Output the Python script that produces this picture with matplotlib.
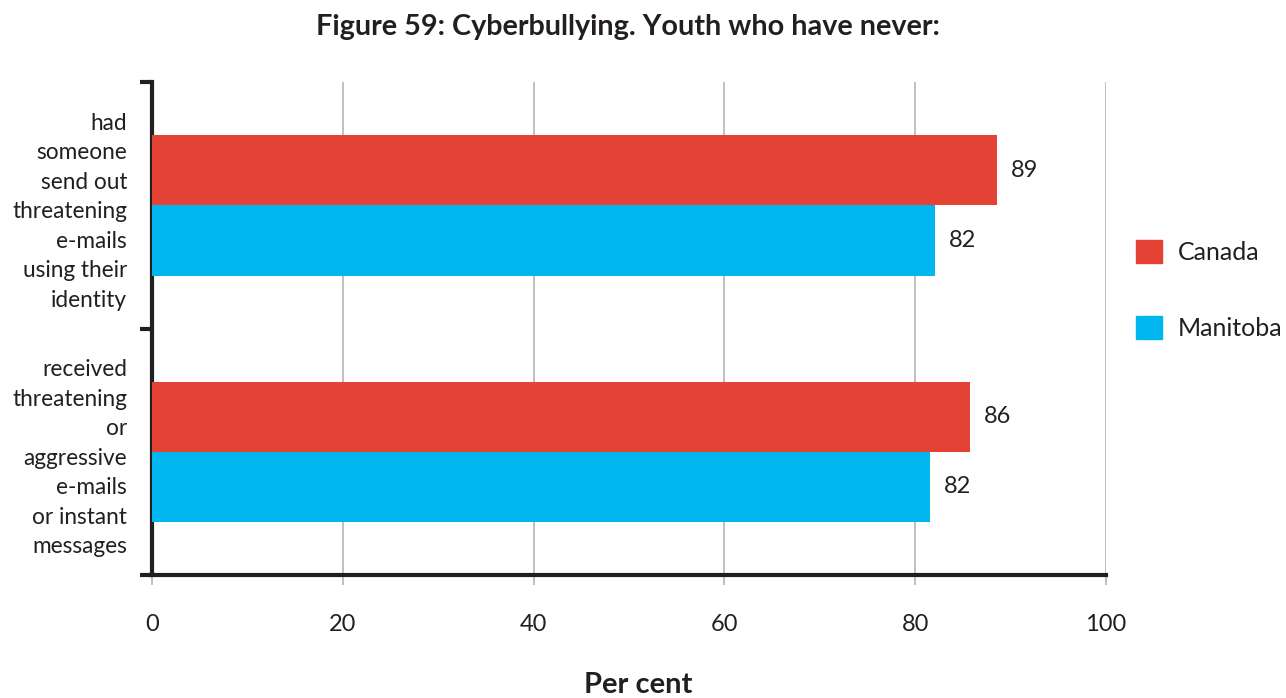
import matplotlib

matplotlib.use("Agg")
import matplotlib.pyplot as plt
from matplotlib.patches import Patch
import numpy as np

plt.rcParams["font.family"] = ["Lato", "DejaVu Sans"]

# data
categories = [
    "had\nsomeone\nsend out\nthreatening\ne-mails\nusing their\nidentity",
    "received\nthreatening\nor\naggressive\ne-mails\nor instant\nmessages",
]
canada = [88.6, 85.8]
manitoba = [82.1, 81.6]
canada_labels = ["89", "86"]
manitoba_labels = ["82", "82"]
xticks = [0, 20, 40, 60, 80, 100]

RED = "#e34234"
BLUE = "#00b6ee"
GRID = "#b5b5b5"
INK = "#231f20"

fig = plt.figure(figsize=(12.86, 6.98), dpi=100)
ax = fig.add_axes([0.1182, 0.1762, 0.7418, 0.7063])

y = np.arange(len(categories))
h = 0.285
ax.barh(y - h / 2, canada, height=h, color=RED, zorder=3)
ax.barh(y + h / 2, manitoba, height=h, color=BLUE, zorder=3)

for yi, v, lab in zip(y, canada, canada_labels):
    ax.text(v + 1.4, yi - h / 2, lab, va="center", ha="left", fontsize=17, color=INK)
for yi, v, lab in zip(y, manitoba, manitoba_labels):
    ax.text(v + 1.4, yi + h / 2, lab, va="center", ha="left", fontsize=17, color=INK)

ax.set_xlim(0, 100)
ax.set_ylim(1.5, -0.5)
ax.set_xticks(xticks)
ax.set_xticklabels([str(t) for t in xticks], fontsize=17, color=INK)
ax.tick_params(axis="x", length=7, width=1.2, color=GRID, pad=21)
ax.grid(True, axis="x", color=GRID, lw=1.2, zorder=0)

# category boundaries as major ticks, labels on minor ticks
ax.set_yticks([-0.5, 0.5, 1.5])
ax.set_yticklabels([])
ax.tick_params(axis="y", which="major", length=9, width=3, color=INK)
ax.set_yticks(y, minor=True)
ax.set_yticklabels(categories, minor=True, fontsize=16.3, color=INK,
                   linespacing=1.5, ha="right")
ax.tick_params(axis="y", which="minor", length=0, pad=18)

for s in ["top", "right"]:
    ax.spines[s].set_visible(False)
for s in ["left", "bottom"]:
    ax.spines[s].set_linewidth(3)
    ax.spines[s].set_color(INK)

fig.text(0.488, 0.961, "Figure 59: Cyberbullying. Youth who have never:",
         ha="center", va="center", fontsize=20.7, fontweight="bold", color=INK)
fig.text(0.496, 0.018, "Per cent", ha="center", va="center",
         fontsize=21, fontweight="bold", color=INK)

handles = [Patch(color=RED, label="Canada"), Patch(color=BLUE, label="Manitoba")]
fig.legend(handles=handles, loc="upper left", bbox_to_anchor=(0.866, 0.688),
           frameon=False, fontsize=18, handlelength=1.05, handleheight=1.05,
           handletextpad=0.6, labelspacing=2.05, labelcolor=INK)

fig.savefig("out.png", dpi=100)
